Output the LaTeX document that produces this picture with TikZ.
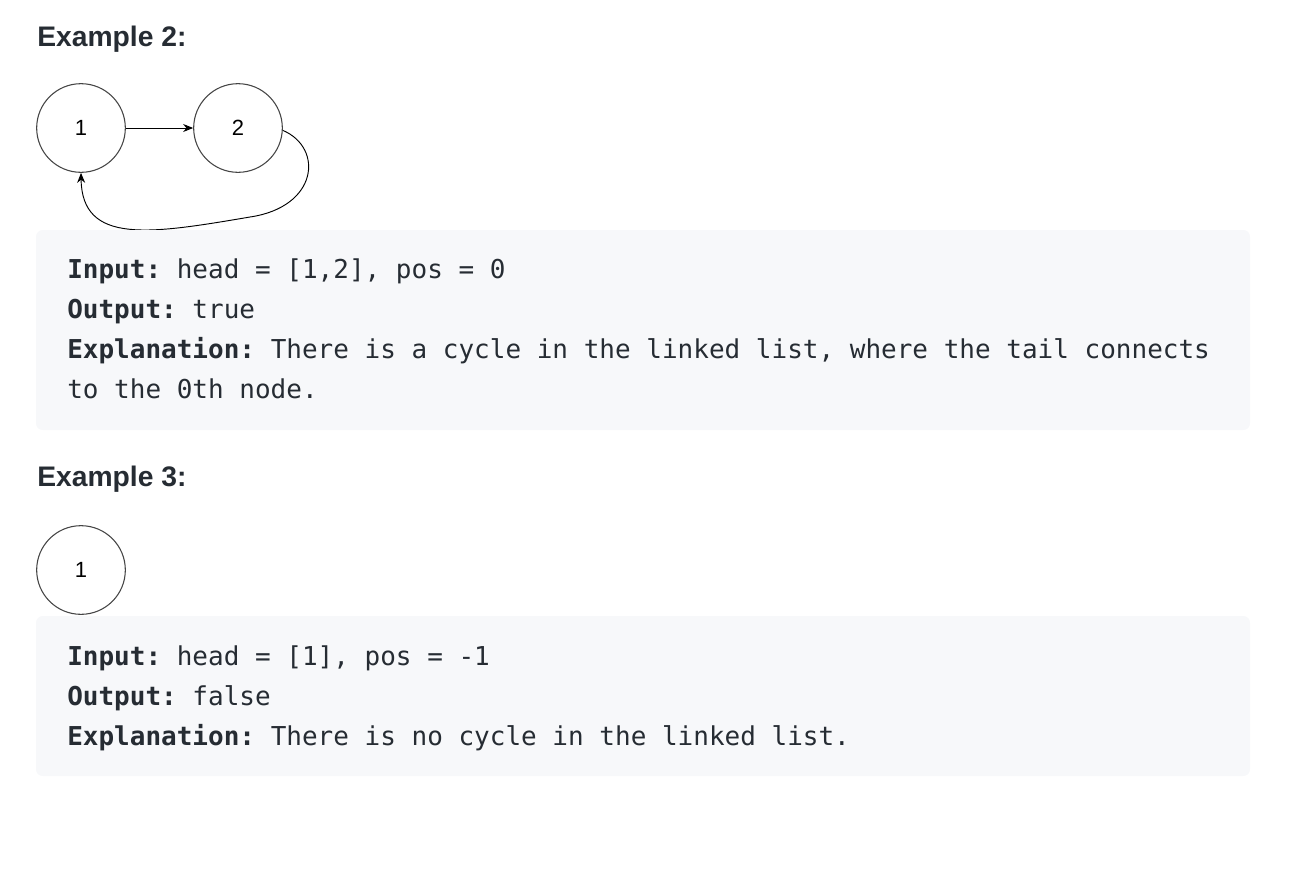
\documentclass[tikz,border=0pt]{standalone}
\usepackage{fontspec}
\setsansfont{Liberation Sans}
\setmonofont{DejaVu Sans Mono}
\usepackage{tikz}
\usetikzlibrary{arrows.meta}

\definecolor{boxbg}{HTML}{F7F8FA}
\definecolor{txt}{HTML}{262C33}
\definecolor{ring}{HTML}{444444}

\begin{document}
\begin{tikzpicture}[x=0.75pt, y=-0.75pt,
	listnode/.style={circle, draw=ring, line width=0.8pt, minimum size=66.5pt, inner sep=0pt,
		font=\sffamily\fontsize{16.5}{18}\selectfont, text=black},
	heading/.style={anchor=base west, inner sep=0pt, text=txt,
		font=\sffamily\bfseries\fontsize{21.2}{24}\selectfont},
	codeline/.style={anchor=base west, inner sep=0pt, text=txt,
		font=\ttfamily\fontsize{19.5}{24}\selectfont},
	link/.style={-{Stealth[length=7.5pt, width=6pt]}, line width=0.7pt, draw=black}]
	\useasboundingbox (0,0) rectangle (1292,872);

	% Example 2
	\node[heading] (ex2) at (37,46) {Example 2:};
	\node[listnode] (a1) at (81,128) {1};
	\node[listnode] (a2) at (238,128) {2};
	\draw[link] (a1) -- (a2);
	% tail loops back to the head
	\draw[link] (a2.-3) .. controls (324,148) and (318,207) .. (250,217)
		.. controls (150,234) and (82,245) .. (a1.south);

	\fill[boxbg, rounded corners=5pt] (36,230) rectangle (1250,430);
	\node[codeline] (in2) at (67,278) {\textbf{Input:} head = [1,2], pos = 0};
	\node[codeline] (out2) at (67,318) {\textbf{Output:} true};
	\node[codeline] (exa2) at (67,358) {\textbf{Explanation:} There is a cycle in the linked list, where the tail connects};
	\node[codeline] (exb2) at (67,398) {to the 0th node.};

	% Example 3
	\node[heading] (ex3) at (37,486) {Example 3:};
	\node[listnode] (b1) at (81,570) {1};

	\fill[boxbg, rounded corners=5pt] (36,616) rectangle (1250,776);
	\node[codeline] (in3) at (67,665) {\textbf{Input:} head = [1], pos = -1};
	\node[codeline] (out3) at (67,705) {\textbf{Output:} false};
	\node[codeline] (exa3) at (67,745) {\textbf{Explanation:} There is no cycle in the linked list.};

\end{tikzpicture}
\end{document}
